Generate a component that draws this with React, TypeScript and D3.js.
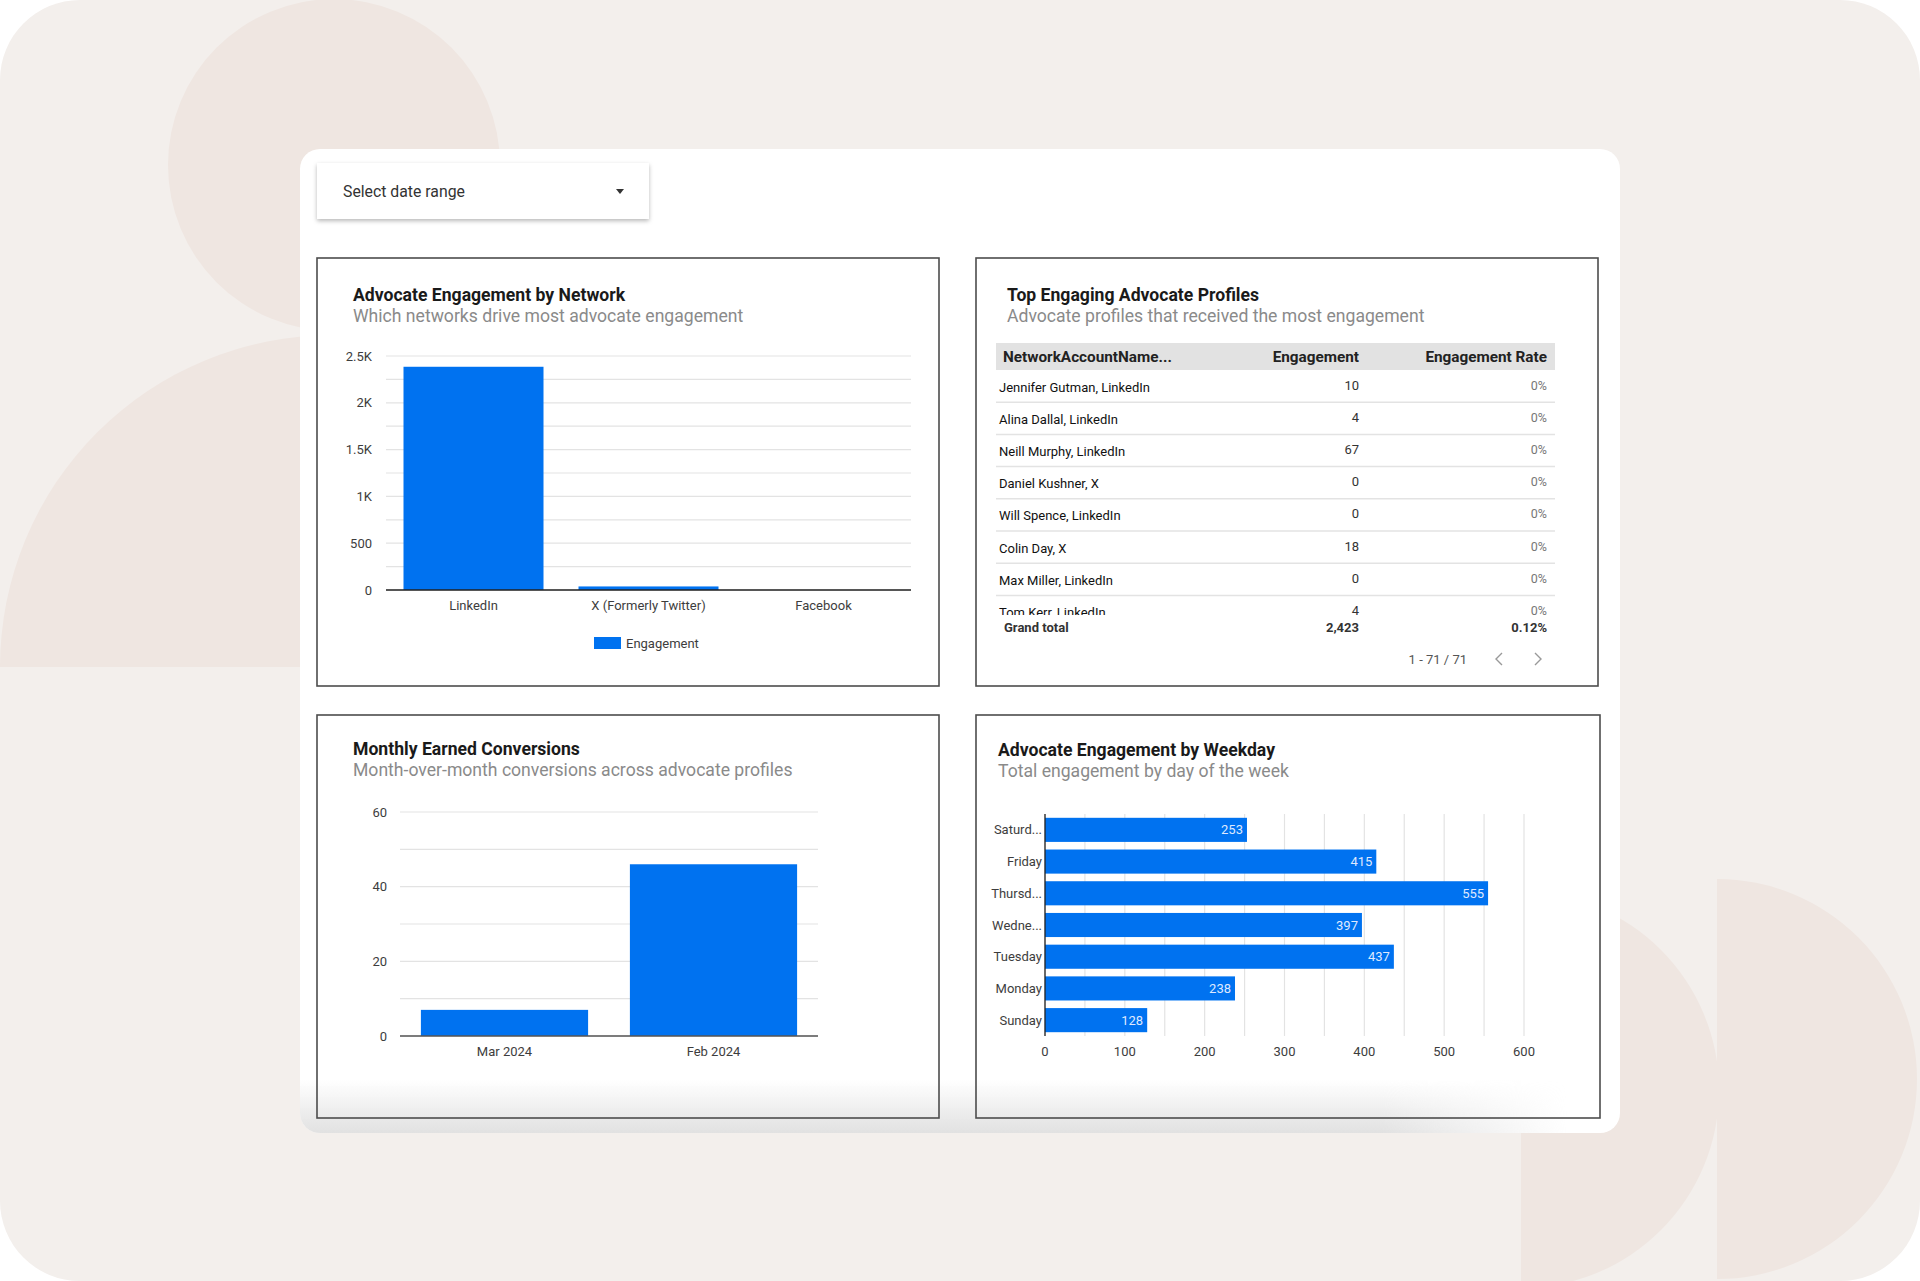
import * as d3 from 'd3'

// ---- data ----
const networkCategories = ['LinkedIn', 'X (Formerly Twitter)', 'Facebook']
const networkEngagement = [2385, 38, 0]
const networkTicks = [0, 500, 1000, 1500, 2000, 2500]

const profileNames = [
  'Jennifer Gutman, LinkedIn',
  'Alina Dallal, LinkedIn',
  'Neill Murphy, LinkedIn',
  'Daniel Kushner, X',
  'Will Spence, LinkedIn',
  'Colin Day, X',
  'Max Miller, LinkedIn',
  'Tom Kerr, LinkedIn',
]
const profileEngagement = [10, 4, 67, 0, 0, 18, 0, 4]
const profileRates = ['0%', '0%', '0%', '0%', '0%', '0%', '0%', '0%']
const tableColumns = ['NetworkAccountName...', 'Engagement', 'Engagement Rate']
const grandTotal = ['Grand total', '2,423', '0.12%']
const pagination = '1 - 71 / 71'

const months = ['Mar 2024', 'Feb 2024']
const monthConversions = [7, 46]
const conversionTicks = [0, 20, 40, 60]

const weekdays = ['Saturday', 'Friday', 'Thursday', 'Wednesday', 'Tuesday', 'Monday', 'Sunday']
const weekdayLabels = ['Saturd...', 'Friday', 'Thursd...', 'Wedne...', 'Tuesday', 'Monday', 'Sunday']
const weekdayEngagement = [253, 415, 555, 397, 437, 238, 128]
const weekdayTicks = [0, 100, 200, 300, 400, 500, 600]

const BLUE = '#0072f0'
const GRID = '#e3e3e3'
const AXIS_TEXT = '#3d3d3d'
const FONT = 'Roboto, "Noto Sans", sans-serif'

const Panel = ({ x, y, w, h, title, subtitle, tx, ty }) => (
  <g>
    <rect x={x} y={y} width={w} height={h} fill="#fff" />
    <text x={tx} y={ty} fontSize={17.6} fontWeight={700} fill="#1a1a1a" dominantBaseline="central">{title}</text>
    <text x={tx} y={ty + 21} fontSize={17.6} fill="#8a8a8a" dominantBaseline="central">{subtitle}</text>
  </g>
)

const PanelBorder = ({ x, y, w, h }) => (
  <rect x={x} y={y} width={w} height={h} fill="none" stroke="#4d4d4d" strokeWidth={1.6} />
)

const fmtK = (v) => (v >= 1000 ? `${v / 1000}K` : `${v}`)

const NetworkChart = () => {
  const y = d3.scaleLinear().domain([0, 2500]).range([590, 356])
  const x = d3.scaleBand().domain(networkCategories).range([386, 911]).paddingInner(0.2).paddingOuter(0.1)
  const grid = d3.range(0, 2501, 250)
  return (
    <g>
      {grid.map((t) => (
        <line key={t} x1={386} x2={911} y1={y(t)} y2={y(t)} stroke={GRID} strokeWidth={1.2} />
      ))}
      {networkTicks.map((t) => (
        <text key={t} x={372} y={y(t)} textAnchor="end" dominantBaseline="central" fontSize={13} fill={AXIS_TEXT}>{fmtK(t)}</text>
      ))}
      {networkCategories.map((c, i) => (
        <rect key={c} x={x(c)} y={y(networkEngagement[i])} width={x.bandwidth()} height={y(0) - y(networkEngagement[i])} fill={BLUE} />
      ))}
      <line x1={386} x2={911} y1={y(0)} y2={y(0)} stroke="#222" strokeWidth={1.3} />
      {networkCategories.map((c) => (
        <text key={c} x={x(c) + x.bandwidth() / 2} y={605} textAnchor="middle" dominantBaseline="central" fontSize={13} fill={AXIS_TEXT}>{c}</text>
      ))}
      <rect x={594} y={637} width={27} height={12} fill={BLUE} />
      <text x={626} y={643} dominantBaseline="central" fontSize={13} fill={AXIS_TEXT}>Engagement</text>
    </g>
  )
}

const ProfileTable = () => {
  const left = 996
  const right = 1555
  const rowH = 32.2
  const top = 370
  const colEng = 1359
  const colRate = 1547
  return (
    <g>
      <rect x={left} y={343} width={right - left} height={27} fill="#e2e2e2" />
      <text x={1003} y={357} dominantBaseline="central" fontSize={15.3} fontWeight={700} fill="#222">{tableColumns[0]}</text>
      <text x={colEng} y={357} textAnchor="end" dominantBaseline="central" fontSize={15.3} fontWeight={700} fill="#222">{tableColumns[1]}</text>
      <text x={colRate} y={357} textAnchor="end" dominantBaseline="central" fontSize={15.3} fontWeight={700} fill="#222">{tableColumns[2]}</text>
      <g clipPath="url(#tableClip)">
        {profileNames.map((n, i) => {
          const cy = top + rowH * i + rowH / 2
          return (
            <g key={n}>
              <text x={999} y={cy + 1} dominantBaseline="central" fontSize={13} fill="#111">{n}</text>
              <text x={colEng} y={cy - 1} textAnchor="end" dominantBaseline="central" fontSize={13} fill="#333">{profileEngagement[i]}</text>
              <text x={colRate} y={cy - 1} textAnchor="end" dominantBaseline="central" fontSize={12.5} fill="#777">{profileRates[i]}</text>
              <line x1={left} x2={right} y1={top + rowH * (i + 1)} y2={top + rowH * (i + 1)} stroke="#e3e3e3" strokeWidth={1.5} />
            </g>
          )
        })}
      </g>
      <text x={1004} y={627} dominantBaseline="central" fontSize={13} fontWeight={700} fill="#333">{grandTotal[0]}</text>
      <text x={colEng} y={627} textAnchor="end" dominantBaseline="central" fontSize={13} fontWeight={700} fill="#333">{grandTotal[1]}</text>
      <text x={colRate} y={627} textAnchor="end" dominantBaseline="central" fontSize={13} fontWeight={700} fill="#333">{grandTotal[2]}</text>
      <text x={1467} y={659} textAnchor="end" dominantBaseline="central" fontSize={13} fill="#555">{pagination}</text>
      <path d="M1502,653 L1496,659 L1502,665" fill="none" stroke="#999" strokeWidth={1.4} />
      <path d="M1535,653 L1541,659 L1535,665" fill="none" stroke="#999" strokeWidth={1.4} />
    </g>
  )
}

const ConversionChart = () => {
  const y = d3.scaleLinear().domain([0, 60]).range([1036, 812])
  const x = d3.scaleBand().domain(months).range([400, 818]).paddingInner(0.2).paddingOuter(0.1)
  const grid = d3.range(0, 61, 10)
  return (
    <g>
      {grid.map((t) => (
        <line key={t} x1={400} x2={818} y1={y(t)} y2={y(t)} stroke={GRID} strokeWidth={1.2} />
      ))}
      {conversionTicks.map((t) => (
        <text key={t} x={387} y={y(t)} textAnchor="end" dominantBaseline="central" fontSize={13} fill={AXIS_TEXT}>{t}</text>
      ))}
      {months.map((m, i) => (
        <rect key={m} x={x(m)} y={y(monthConversions[i])} width={x.bandwidth()} height={y(0) - y(monthConversions[i])} fill={BLUE} />
      ))}
      <line x1={400} x2={818} y1={y(0)} y2={y(0)} stroke="#555" strokeWidth={1.3} />
      {months.map((m) => (
        <text key={m} x={x(m) + x.bandwidth() / 2} y={1051} textAnchor="middle" dominantBaseline="central" fontSize={13} fill={AXIS_TEXT}>{m}</text>
      ))}
    </g>
  )
}

const WeekdayChart = () => {
  const x = d3.scaleLinear().domain([0, 600]).range([1045, 1524])
  const y = d3.scaleBand().domain(weekdays).range([814, 1036]).paddingInner(0.24).paddingOuter(0.12)
  const grid = d3.range(0, 601, 50)
  return (
    <g>
      {grid.map((t) => (
        <line key={t} x1={x(t)} x2={x(t)} y1={814} y2={1036} stroke={GRID} strokeWidth={1.2} />
      ))}
      {weekdays.map((d, i) => (
        <g key={d}>
          <rect x={x(0)} y={y(d)} width={x(weekdayEngagement[i]) - x(0)} height={y.bandwidth()} fill={BLUE} />
          <text x={x(weekdayEngagement[i]) - 4} y={y(d) + y.bandwidth() / 2} textAnchor="end" dominantBaseline="central" fontSize={13} fill="#dfe9ff">{weekdayEngagement[i]}</text>
          <text x={1042} y={y(d) + y.bandwidth() / 2} textAnchor="end" dominantBaseline="central" fontSize={13} fill={AXIS_TEXT}>{weekdayLabels[i]}</text>
        </g>
      ))}
      <line x1={x(0)} x2={x(0)} y1={814} y2={1036} stroke="#222" strokeWidth={1.3} />
      {weekdayTicks.map((t) => (
        <text key={t} x={x(t)} y={1051} textAnchor="middle" dominantBaseline="central" fontSize={13} fill={AXIS_TEXT}>{t}</text>
      ))}
    </g>
  )
}

export default function App() {
  return (
    <svg width={1920} height={1281} style={{ position: 'absolute', left: 0, top: 0, display: 'block' }} fontFamily={FONT}>
      <defs>
        <clipPath id="bgClip">
          <rect x={0} y={0} width={1920} height={1281} rx={80} />
        </clipPath>
        <clipPath id="cardClip">
          <rect x={300} y={149} width={1320} height={984} rx={20} />
        </clipPath>
        <clipPath id="tableClip">
          <rect x={990} y={370} width={580} height={245} />
        </clipPath>
        <linearGradient id="shadeV" x1="0" y1="0" x2="0" y2="1">
          <stop offset="0" stopColor="#dcdcdc" stopOpacity={0} />
          <stop offset="1" stopColor="#dcdcdc" stopOpacity={0.85} />
        </linearGradient>
        <linearGradient id="shadeH" x1="0" y1="0" x2="1" y2="0">
          <stop offset="0" stopColor="#fff" stopOpacity={1} />
          <stop offset="0.82" stopColor="#fff" stopOpacity={1} />
          <stop offset="0.96" stopColor="#fff" stopOpacity={0} />
        </linearGradient>
        <mask id="shadeMask">
          <rect x={300} y={1070} width={1320} height={70} fill="url(#shadeH)" />
        </mask>
        <filter id="dropShadow" x="-10%" y="-30%" width="120%" height="170%">
          <feDropShadow dx={0} dy={2} stdDeviation={2} floodColor="#000" floodOpacity={0.28} />
        </filter>
      </defs>

      {/* background with decorative shapes */}
      <g clipPath="url(#bgClip)">
        <rect x={0} y={0} width={1920} height={1281} fill="#f3efec" />
        <circle cx={334} cy={165} r={166} fill="#efe6e1" />
        <path d="M0,667 A332,332 0 0 1 664,667 Z" fill="#efe6e1" />
        <path d="M1521,892 A198,198 0 0 1 1521,1288 Z" fill="#efe6e1" />
        <path d="M1717,879 A200,200 0 0 1 1717,1279 L1717,1281 Z" fill="#efe6e1" />
      </g>

      {/* white card */}
      <rect x={300} y={149} width={1320} height={984} rx={20} fill="#fff" />

      {/* date range control */}
      <rect x={317} y={163} width={332} height={56} fill="#fff" filter="url(#dropShadow)" />
      <text x={343} y={191} dominantBaseline="central" fontSize={15.8} fill="#333">Select date range</text>
      <path d="M616,189 L624,189 L620,194 Z" fill="#333" />

      <Panel x={317} y={258} w={622} h={428} tx={353} ty={295} title="Advocate Engagement by Network" subtitle="Which networks drive most advocate engagement" />
      <Panel x={976} y={258} w={622} h={428} tx={1007} ty={295} title="Top Engaging Advocate Profiles" subtitle="Advocate profiles that received the most engagement" />
      <Panel x={317} y={715} w={622} h={403} tx={353} ty={749} title="Monthly Earned Conversions" subtitle="Month-over-month conversions across advocate profiles" />
      <Panel x={976} y={715} w={624} h={403} tx={998} ty={750} title="Advocate Engagement by Weekday" subtitle="Total engagement by day of the week" />

      <NetworkChart />
      <ProfileTable />
      <ConversionChart />
      <WeekdayChart />

      {/* soft shading along the bottom of the card */}
      <g clipPath="url(#cardClip)" mask="url(#shadeMask)">
        <rect x={300} y={1080} width={1320} height={53} fill="url(#shadeV)" />
      </g>

      <PanelBorder x={317} y={258} w={622} h={428} />
      <PanelBorder x={976} y={258} w={622} h={428} />
      <PanelBorder x={317} y={715} w={622} h={403} />
      <PanelBorder x={976} y={715} w={624} h={403} />
    </svg>
  )
}
